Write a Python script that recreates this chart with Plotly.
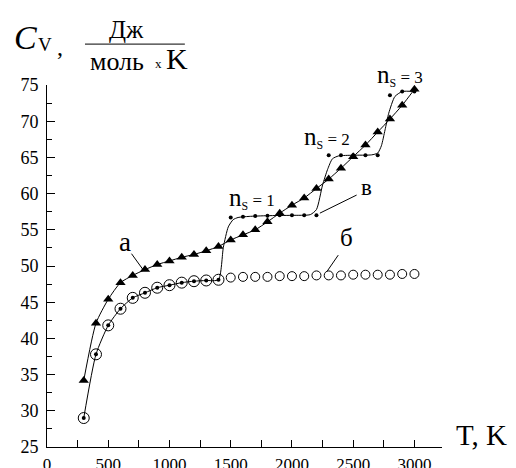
import plotly.graph_objects as go

# ---- data ----
T_A = list(range(300, 3001, 100))
CV_A = [34.2, 42.1, 45.4, 47.7, 48.7, 49.5, 50.2, 50.7, 51.2, 51.6, 52.1, 52.7,
        53.6, 54.3, 55.0, 56.1, 57.3, 58.4, 59.4, 60.7, 62.0, 63.5, 65.1, 66.7,
        68.5, 70.3, 72.2, 74.4]

T_B_LOW = list(range(300, 1401, 100))
CV_B_LOW = [29.0, 37.8, 41.8, 44.1, 45.6, 46.3, 47.0, 47.35, 47.7, 47.9, 48.0, 48.1]
T_B_HIGH = list(range(1500, 3001, 100))
CV_B_HIGH = [48.4, 48.5, 48.5, 48.5, 48.6, 48.6, 48.6, 48.7, 48.7, 48.7,
             48.8, 48.8, 48.8, 48.8, 48.9, 48.9]

T_V = list(range(300, 3001, 100))
CV_V = CV_B_LOW + [56.7, 56.8, 56.9, 56.95, 57.0, 57.0, 57.0, 57.0,
                   65.3, 65.3, 65.3, 65.3, 65.3, 73.6, 74.1, 74.1]

CURVE_T = [300, 400, 500, 600, 700, 800, 900, 1000, 1100, 1200, 1300, 1400,
           1440, 1480, 1520, 1560, 1650, 1800, 2000, 2150, 2200, 2250, 2290,
           2330, 2380, 2500, 2650, 2700, 2730, 2760, 2790, 2840, 2900, 3000]
CURVE_CV = [29.0, 37.8, 41.8, 44.1, 45.6, 46.3, 47.0, 47.35, 47.7, 47.9, 48.0, 48.1,
            52.6, 55.4, 56.4, 56.7, 56.85, 56.95, 57.0, 57.1, 57.8, 61.2, 63.3,
            64.8, 65.2, 65.3, 65.35, 65.6, 66.6, 68.8, 71.1, 73.4, 74.1, 74.1]

X_TICKS = [0, 500, 1000, 1500, 2000, 2500, 3000]
Y_TICKS = [25, 30, 35, 40, 45, 50, 55, 60, 65, 70, 75]

FONT = "Liberation Serif"
BLACK = "black"

fig = go.Figure()

fig.add_trace(go.Scatter(x=CURVE_T, y=CURVE_CV, mode="lines",
                         line=dict(color=BLACK, width=1, shape="spline", smoothing=0.6),
                         hoverinfo="skip"))
fig.add_trace(go.Scatter(x=T_A, y=CV_A, mode="lines+markers",
                         line=dict(color=BLACK, width=1, shape="spline", smoothing=0.6),
                         marker=dict(symbol="triangle-up", size=9, color=BLACK)))
fig.add_trace(go.Scatter(x=T_B_LOW, y=CV_B_LOW, mode="markers",
                         marker=dict(symbol="circle-open", size=11, color=BLACK,
                                     line=dict(width=1, color=BLACK))))
fig.add_trace(go.Scatter(x=T_B_HIGH, y=CV_B_HIGH, mode="markers",
                         marker=dict(symbol="circle-open", size=9, color=BLACK,
                                     line=dict(width=1, color=BLACK))))
fig.add_trace(go.Scatter(x=T_V, y=CV_V, mode="markers",
                         marker=dict(symbol="circle", size=4, color=BLACK)))

def ann(x, y, text, size, ref="data"):
    r = ("x", "y") if ref == "data" else ("paper", "paper")
    fig.add_annotation(x=x, y=y, xref=r[0], yref=r[1], text=text, showarrow=False,
                       font=dict(family=FONT, size=size, color=BLACK),
                       xanchor="center", yanchor="middle")

# axis title pieces (paper coordinates, outside the plot area)
ann(-0.054, 1.13, "<i>C</i>", 34, "paper")
ann(-0.005, 1.112, "V", 19, "paper")
ann(0.034, 1.106, ",", 24, "paper")
ann(0.202, 1.152, "Дж", 25, "paper")
ann(0.176, 1.064, "моль", 26, "paper")
ann(0.283, 1.06, "x", 13, "paper")
ann(0.329, 1.072, "K", 30, "paper")
ann(1.101, 0.032, "T, K", 29, "paper")

# curve labels
ann(636, 53.3, "а", 27)
ann(2446, 53.9, "б", 25)
ann(2609, 60.8, "в", 23)

def ns(k):
    return ('<span style="font-size:25px">n</span>'
            '<span style="font-size:17px"><sub>S</sub> = %d</span>' % k)

ann(1673, 59.3, ns(1), 17)
ann(2285, 67.8, ns(2), 17)
ann(0.893, 1.026, ns(3), 17, "paper")

# pointer lines
for (x0, y0, x1, y1) in [(690, 51.7, 784, 49.5), (2378, 51.5, 2288, 49.3),
                         (2528, 59.8, 2228, 57.3)]:
    fig.add_shape(type="line", xref="x", yref="y", x0=x0, y0=y0, x1=x1, y1=y1,
                  line=dict(color=BLACK, width=1))

# fraction bar
fig.add_shape(type="line", xref="paper", yref="paper", x0=0.0962, x1=0.349,
              y0=1.113, y1=1.113, line=dict(color=BLACK, width=1))

fig.update_layout(
    width=516, height=468,
    margin=dict(l=47, r=74, t=85, b=21),
    paper_bgcolor="white", plot_bgcolor="white",
    showlegend=False,
    font=dict(family=FONT, color=BLACK),
    xaxis=dict(range=[0, 3225], tickvals=X_TICKS, ticktext=[str(v) for v in X_TICKS],
               automargin=False,
               ticks="inside", ticklen=7, tickwidth=1, tickcolor=BLACK,
               showline=True, linecolor=BLACK, linewidth=1, showgrid=False,
               zeroline=False, tickfont=dict(family=FONT, size=17, color=BLACK),
               ticklabelstandoff=2,
               minor=dict(dtick=250, tick0=0, ticks="inside", ticklen=7,
                          tickcolor=BLACK, showgrid=False)),
    yaxis=dict(range=[25, 75], tickvals=Y_TICKS, ticktext=[str(v) for v in Y_TICKS],
               automargin=False,
               ticks="inside", ticklen=8, tickwidth=1, tickcolor=BLACK,
               showline=True, linecolor=BLACK, linewidth=1, showgrid=False,
               zeroline=False, tickfont=dict(family=FONT, size=18, color=BLACK),
               ticklabelstandoff=4,
               minor=dict(dtick=2.5, tick0=25, ticks="inside", ticklen=5,
                          tickcolor=BLACK, showgrid=False)),
)

fig.write_html("out.html")
